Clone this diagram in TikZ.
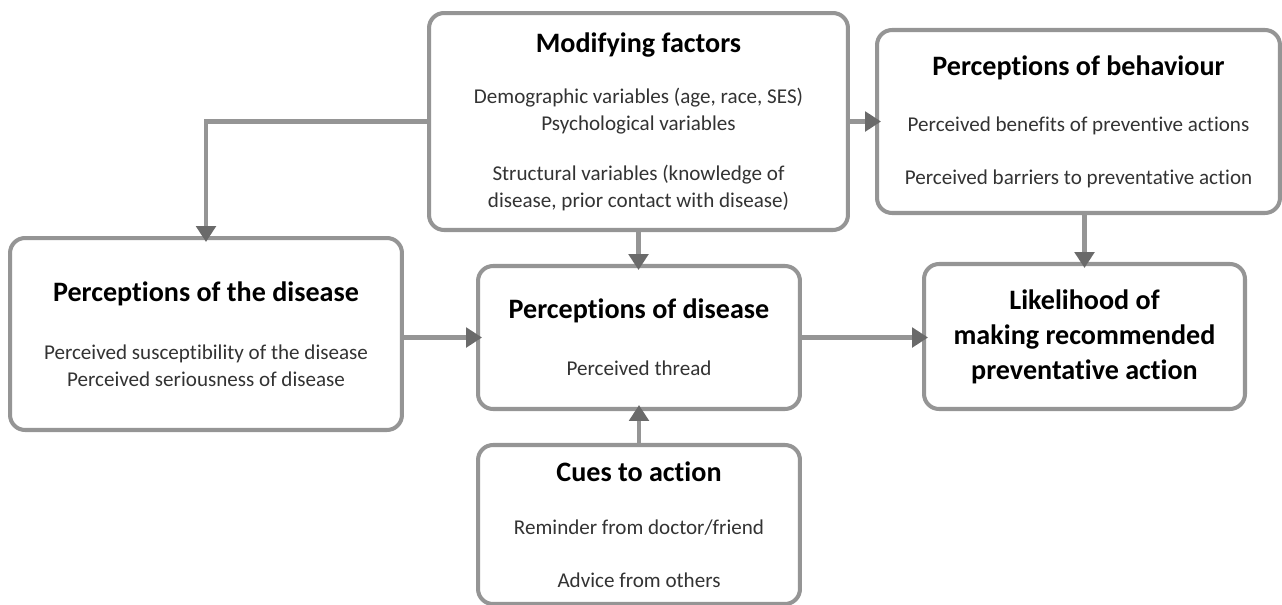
\documentclass[tikz,border=0pt]{standalone}
\usepackage{fontspec}
\setmainfont{Carlito}[Ligatures=NoCommon]
\usepackage{xcolor}
\usetikzlibrary{arrows.meta}
\definecolor{boxgray}{HTML}{959595}
\definecolor{tipgray}{HTML}{6A6A6A}
\definecolor{txtgray}{HTML}{333333}
\newcommand{\boxtitle}[1]{{\fontsize{16}{15.3}\selectfont\bfseries\color{black}#1}}

\begin{document}
\begin{tikzpicture}[x=0.02cm,y=-0.02cm,
        box/.style={draw=boxgray,line width=2.3pt,rounded corners=0.3cm,fill=white,
            align=center,inner sep=0pt,text=txtgray,font=\fontsize{12}{15.3}\selectfont},
        conn/.style={draw=boxgray,line width=2.3pt,
            -{Triangle[width=11pt,length=9pt,color=tipgray]},shorten >=-3.4pt}]
            \useasboundingbox (0,0) rectangle (1282,605);
            \node[box,minimum width=8.38cm,minimum height=4.34cm] (MF) at (638.5,121.5)
                {\boxtitle{Modifying factors}\\[14pt]
                 Demographic variables (age, race, SES)\\
                 Psychological variables\\[13pt]
                 Structural variables (knowledge of\\
                 disease, prior contact with disease)};
            \node[box,minimum width=8.06cm,minimum height=3.66cm] (PB) at (1078.5,121.5)
                {\boxtitle{Perceptions of behaviour}\\[17pt]
                 Perceived benefits of preventive actions\\[14.5pt]
                 Perceived barriers to preventative action};
            \node[box,minimum width=7.84cm,minimum height=3.84cm] (PTD) at (206,334)
                {\boxtitle{Perceptions of the disease}\\[18pt]
                 Perceived susceptibility of the disease\\
                 Perceived seriousness of disease};
            \node[box,minimum width=6.44cm,minimum height=2.86cm] (PD) at (639,337.5)
                {\boxtitle{Perceptions of disease}\\[17pt]
                 Perceived thread};
            \node[box,minimum width=6.42cm,minimum height=2.9cm,text=black,
                font=\fontsize{16}{20}\selectfont\bfseries] (LA) at (1084.5,336.5)
                {Likelihood of\\
                 making recommended\\
                 preventative action};
            \node[box,minimum width=6.44cm,minimum height=3.18cm] (CA) at (639,524.5)
                {\boxtitle{Cues to action}\\[15pt]
                 Reminder from doctor/friend\\[14.5pt]
                 Advice from others};
            \begin{scope}[conn]
                \draw (MF.west) -| (PTD.north);
                \draw (MF.east) -- (MF.east -| PB.west);
                \draw (MF.south) -- (MF.south |- PD.north);
                \draw (PTD.east |- PD.west) -- (PD.west);
                \draw (PD.east) -- (PD.east -| LA.west);
                \draw (PB.south -| LA.north) -- (LA.north);
                \draw (CA.north) -- (PD.south);
            \end{scope}
        \end{tikzpicture}
\end{document}
